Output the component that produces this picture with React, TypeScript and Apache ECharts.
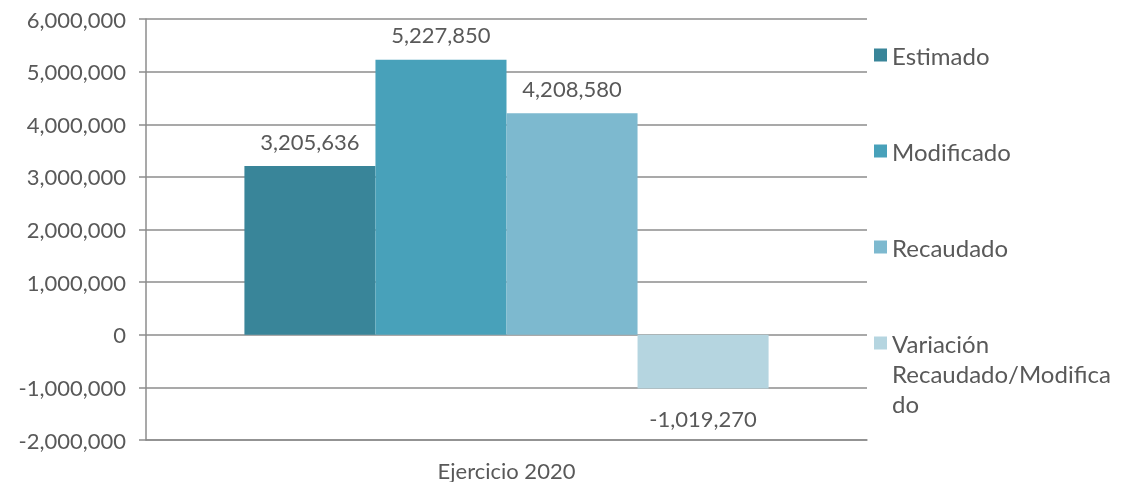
import React, { useEffect, useRef } from "react";
import * as echarts from "echarts";

const categories = ["Ejercicio 2020"];
const seriesNames = ["Estimado", "Modificado", "Recaudado", "Variación Recaudado/Modificado"];
const estimado = [3205636];
const modificado = [5227850];
const recaudado = [4208580];
const variacion = [-1019270];
const colors = ["#398599", "#48a1ba", "#7db9cf", "#b5d5e0"];

const FONT = "Lato";
const TXT = "#595959";
const GRID = "#8c8c8c";

const fmt = (v: number) => Math.round(v).toLocaleString("en-US");

export default function App() {
  const ref = useRef<HTMLDivElement>(null);
  useEffect(() => {
    if (!ref.current) return;
    const chart = echarts.init(ref.current, undefined, { renderer: "svg" });
    const values = [estimado, modificado, recaudado, variacion];
    chart.setOption({
      animation: false,
      textStyle: { fontFamily: FONT },
      grid: { left: 146, top: 19, right: 281, bottom: 42, containLabel: false },
      legend: [
        {
          orient: "vertical",
          left: 869,
          top: 38,
          itemWidth: 13,
          itemHeight: 13,
          itemGap: 72,
          icon: "rect",
          data: seriesNames.slice(0, 3),
          textStyle: { color: TXT, fontSize: 24, fontFamily: FONT, lineHeight: 24 },
          selectedMode: false,
        },
        {
          orient: "vertical",
          left: 869,
          top: 263,
          itemWidth: 13,
          itemHeight: 13,
          icon: "rect",
          data: [seriesNames[3]],
          formatter: () => "\n\nVariación\nRecaudado/Modifica\ndo",
          textStyle: { color: TXT, fontSize: 24, fontFamily: FONT, lineHeight: 30 },
          selectedMode: false,
        },
      ],
      xAxis: {
        type: "category",
        data: categories,
        axisLine: { onZero: false, lineStyle: { color: GRID, width: 1.5 } },
        axisTick: { show: false },
        axisLabel: { color: TXT, fontSize: 22, fontFamily: FONT, margin: 19 },
      },
      yAxis: {
        type: "value",
        min: -2000000,
        max: 6000000,
        interval: 1000000,
        axisLine: { show: true, lineStyle: { color: GRID, width: 1.5 } },
        axisTick: { show: true, length: 7, lineStyle: { color: GRID, width: 1.5 } },
        axisLabel: { color: TXT, fontSize: 22, fontFamily: FONT, margin: 20, formatter: (v: number) => fmt(v) },
        splitLine: { show: true, lineStyle: { color: GRID, width: 1.5 } },
      },
      series: seriesNames.map((name, i) => ({
        name,
        type: "bar",
        data: values[i],
        barGap: "0%",
        barCategoryGap: "27.3%",
        itemStyle: { color: colors[i] },
        label: {
          show: true,
          position: values[i][0] < 0 ? "bottom" : "top",
          distance: values[i][0] < 0 ? 19 : 14,
          color: TXT,
          fontSize: 22,
          fontFamily: FONT,
          formatter: (p: any) => fmt(p.value),
        },
      })),
    });
    return () => chart.dispose();
  }, []);
  return <div ref={ref} style={{ position: "fixed", left: 0, top: 0, width: 1148, height: 482 }} />;
}
